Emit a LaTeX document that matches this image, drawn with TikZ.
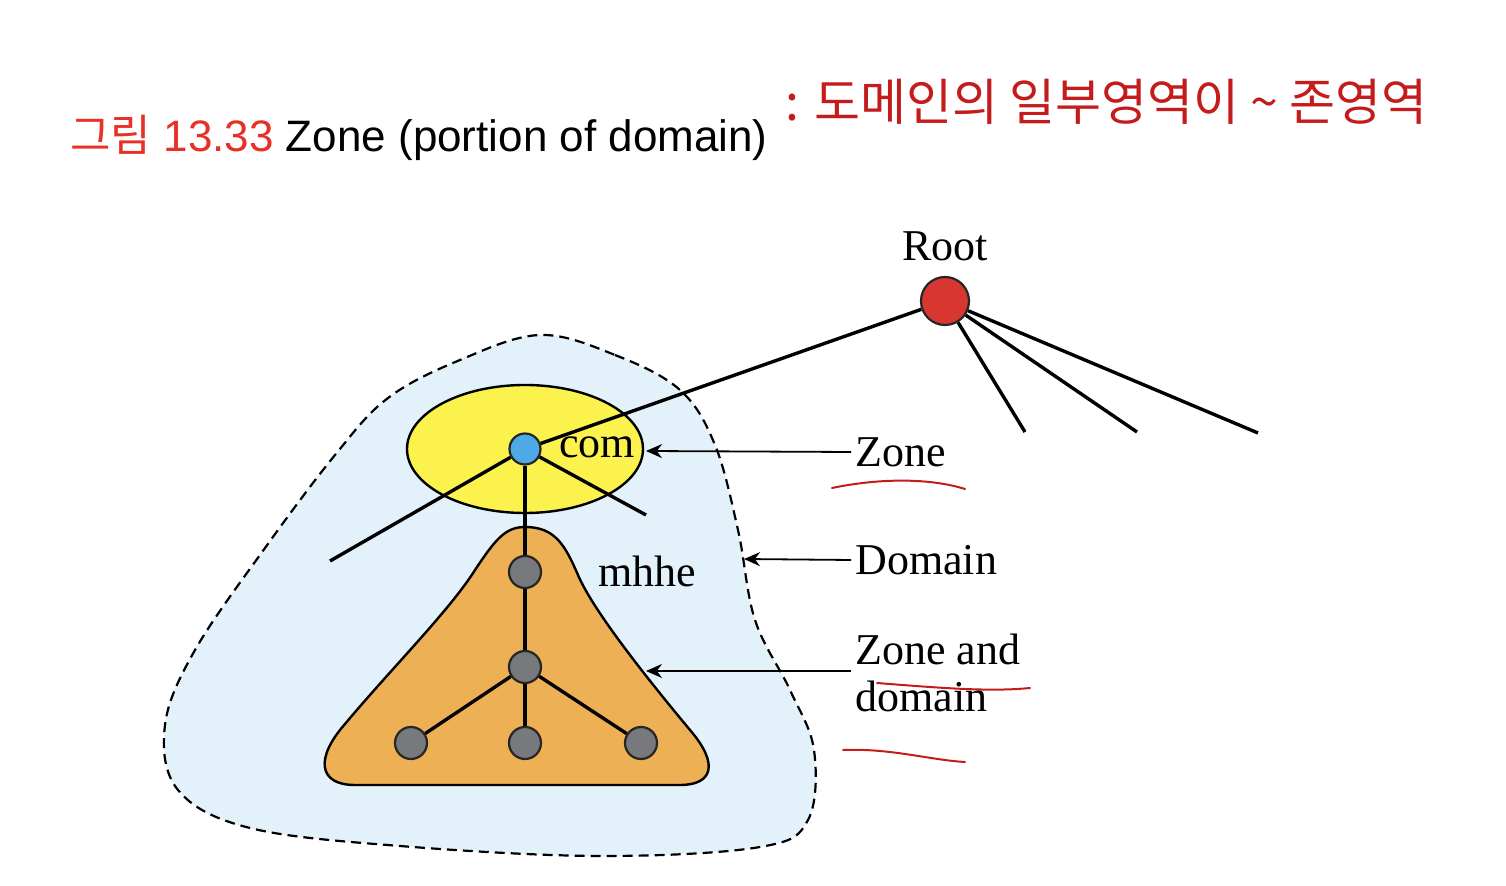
\documentclass[tikz,border=0pt]{standalone}
\usepackage{fontspec}
\setmainfont{Liberation Serif}
\newfontfamily\titlefont{Liberation Sans}
\newfontfamily\krfont{Noto Sans CJK KR}
\usetikzlibrary{arrows.meta,shapes.geometric}

\definecolor{rootred}{RGB}{216,54,48}
\definecolor{comblue}{RGB}{78,170,230}
\definecolor{zoneyellow}{RGB}{252,242,78}
\definecolor{mhheorange}{RGB}{238,176,85}
\definecolor{hostgray}{RGB}{120,121,125}
\definecolor{domainblue}{RGB}{227,241,251}
\definecolor{penred}{RGB}{196,28,28}
\definecolor{titlered}{RGB}{232,48,38}

\begin{document}
\begin{tikzpicture}[x=0.5pt,y=-0.5pt,
    font=\fontsize{22}{23.5}\selectfont,
    host/.style={circle,draw=black!85,line width=1.1pt,fill=hostgray,
      minimum size=16pt,inner sep=0pt},
    branch/.style={line width=1.7pt},
    pointer/.style={-{Stealth[length=8pt,width=7pt]},line width=0.9pt},
    label/.style={anchor=west,inner sep=2pt},
    pen/.style={penred,line width=1pt,line cap=round}]
  \useasboundingbox (0,0) rectangle (1506,886);

  % title and handwritten note
  \node[anchor=base west,inner sep=0pt,font=\fontsize{22}{24}\titlefont] (title) at (70,152)
    {\textcolor{titlered}{{\krfont 그림} 13.33} Zone (portion of domain)};
  \node[anchor=west,inner sep=0pt,text=penred,font=\fontsize{25}{26}\krfont] (note) at (785,102)
    {: 도메인의 일부영역이 \textasciitilde{} 존영역};

  % the domain (dashed blob)
  \draw[fill=domainblue,line width=1.1pt,dash pattern=on 5pt off 3pt]
    plot[smooth cycle,tension=0.6] coordinates {(540,335) (615,355) (680,390) (715,445)
      (738,530) (755,620) (790,690) (814,750) (808,820) (760,847) (600,856) (400,846)
      (250,828) (178,790) (165,725) (195,650) (265,548) (335,455) (388,398) (460,360)};

  % the zone com
  \node[draw,ellipse,fill=zoneyellow,line width=1.2pt,minimum width=118pt,
    minimum height=64pt] (zone) at (525,449) {};

  % zone and domain mhhe
  \draw[fill=mhheorange,line width=1.2pt]
    (525,527) .. controls (555,527) and (565,545) .. (578,575)
    .. controls (592,608) and (640,670) .. (690,730)
    .. controls (720,765) and (712,785) .. (680,785) -- (355,785)
    .. controls (318,785) and (315,758) .. (345,724)
    .. controls (390,670) and (450,610) .. (475,570)
    .. controls (495,540) and (505,527) .. (525,527) -- cycle;

  % nodes
  \node[circle,draw=black!85,line width=1.1pt,fill=rootred,minimum size=24pt,
    inner sep=0pt] (root) at (945,301) {};
  \node[circle,draw=black!85,line width=1.1pt,fill=comblue,minimum size=15.5pt,
    inner sep=0pt] (com) at (525,449) {};
  \node[host] (mhhe) at (525,572) {};
  \node[host] (mid) at (525,667) {};
  \node[host] (left) at (411,743) {};
  \node[host] (centre) at (525,743) {};
  \node[host] (right) at (641,743) {};

  \coordinate (rootA) at (1025,432);
  \coordinate (rootB) at (1137,432);
  \coordinate (rootC) at (1258,433);
  \coordinate (comA) at (330,561);
  \coordinate (comB) at (646,515);

  % tree edges
  \draw[branch] (root) -- (com);
  \draw[branch] (root) -- (rootA);
  \draw[branch] (root) -- (rootB);
  \draw[branch] (root) -- (rootC);
  \draw[branch] (com) -- (comA);
  \draw[branch] (com) -- (comB);
  \draw[branch] (com) -- (mhhe);
  \draw[branch] (mhhe) -- (mid);
  \draw[branch] (mid) -- (left);
  \draw[branch] (mid) -- (centre);
  \draw[branch] (mid) -- (right);

  % labels
  \node (rootlbl) at (945,246) {Root};
  \node[label] (comlbl) at (555,447) {com};
  \node[label] (mhhelbl) at (594,571) {mhhe};
  \node[label] (zonelbl) at (851,452) {Zone};
  \node[label] (domainlbl) at (851,560) {Domain};
  \node[label,align=left] (bothlbl) at (851,673) {Zone and\\domain};

  % pointers
  \coordinate (zonetip) at (646,451);
  \coordinate (domaintip) at (744,559);
  \coordinate (bothtip) at (646,671);
  \draw[pointer] (zonelbl.west) -- (zonetip);
  \draw[pointer] (domainlbl.west) -- (domaintip);
  \draw[pointer] (bothlbl.west |- bothtip) -- (bothtip);

  % red underlines
  \draw[pen] (832,488) .. controls (880,478) and (930,478) .. (965,489);
  \draw[pen] (877,683) .. controls (940,688) and (990,692) .. (1030,688);
  \draw[pen] (843,750) .. controls (890,748) and (930,760) .. (965,762);
\end{tikzpicture}
\end{document}
